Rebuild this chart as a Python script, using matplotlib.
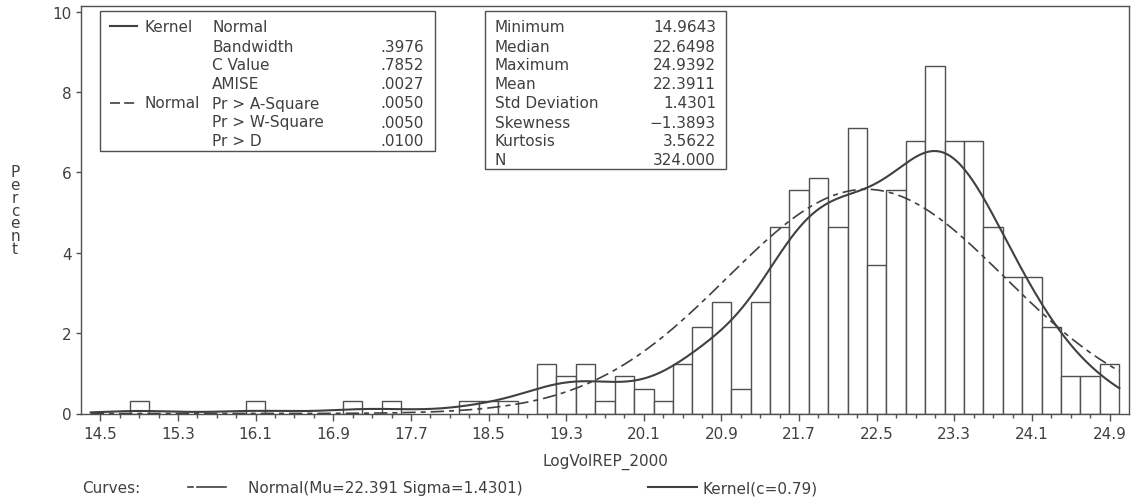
import numpy as np
import matplotlib.pyplot as plt
from matplotlib.patches import Rectangle
from matplotlib.lines import Line2D
from matplotlib.ticker import FixedLocator

# Histograma de LogVolREP_2000 con ajuste normal y estimador kernel

plt.rcParams['font.family'] = ['DejaVu Sans']
gris = '#404040'
tam = 11

# Datos: puntos medios de las clases (ancho 0.2) y porcentaje de cada una
ancho = 0.2
medios = [14.9, 16.1, 17.1, 17.5, 18.3, 18.5, 18.7,
          19.1, 19.3, 19.5, 19.7, 19.9, 20.1, 20.3, 20.5, 20.7, 20.9, 21.1, 21.3,
          21.5, 21.7, 21.9, 22.1, 22.3, 22.5, 22.7, 22.9, 23.1, 23.3, 23.5, 23.7,
          23.9, 24.1, 24.3, 24.5, 24.7, 24.9]
porcentaje = [0.31, 0.31, 0.31, 0.31, 0.31, 0.31, 0.31,
              1.23, 0.93, 1.23, 0.31, 0.93, 0.62, 0.31, 1.23, 2.16, 2.78, 0.62, 2.78,
              4.63, 5.56, 5.86, 4.63, 7.10, 3.70, 5.56, 6.79, 8.64, 6.79, 6.79, 4.63,
              3.40, 3.40, 2.16, 0.93, 0.93, 1.23]

# Parametros de las curvas
mu, sigma = 22.391, 1.4301
banda = 0.3976

# Tablas de estadisticos
kernel_etiq = ['Bandwidth', 'C Value', 'AMISE']
kernel_val = ['.3976', '.7852', '.0027']
normal_etiq = ['Pr > A-Square', 'Pr > W-Square', 'Pr > D']
normal_val = ['.0050', '.0050', '.0100']
resumen_etiq = ['Minimum', 'Median', 'Maximum', 'Mean', 'Std Deviation',
                'Skewness', 'Kurtosis', 'N']
resumen_val = ['14.9643', '22.6498', '24.9392', '22.3911', '1.4301',
               '\u22121.3893', '3.5622', '324.000']

marcas_mayores = np.round(np.arange(14.5, 24.95, 0.8), 1)
marcas_menores = np.round(np.arange(14.5, 24.95, 0.2), 1)

W, H = 1140, 502
def fx(px):
    return px / W
def fy(py):
    return 1 - py / H

fig = plt.figure(figsize=(W / 100, H / 100), dpi=100)
ax = fig.add_axes([fx(81), fy(414.5), fx(1129) - fx(81), fy(7) - fy(414.5)])

ax.bar(medios, porcentaje, width=ancho, facecolor='white', edgecolor='#505050',
       linewidth=1.0, zorder=2)

x = np.linspace(14.4, 25.0, 500)
normal = 100 * ancho * np.exp(-0.5 * ((x - mu) / sigma) ** 2) / (sigma * np.sqrt(2 * np.pi))
kernel = np.zeros_like(x)
for m, p in zip(medios, porcentaje):
    kernel += p * ancho * np.exp(-0.5 * ((x - m) / banda) ** 2) / (banda * np.sqrt(2 * np.pi))

ax.plot(x, normal, color=gris, lw=1.2, dashes=(8, 3, 3, 3), zorder=3)
ax.plot(x, kernel, color=gris, lw=1.5, zorder=3)

ax.set_xlim(14.3, 25.1)
ax.set_ylim(0, 10.14)
ax.xaxis.set_major_locator(FixedLocator(marcas_mayores))
ax.xaxis.set_minor_locator(FixedLocator(marcas_menores))
ax.set_xticklabels(['%.1f' % v for v in marcas_mayores])
ax.set_yticks([0, 2, 4, 6, 8, 10])
ax.tick_params(axis='x', which='major', length=5.3, width=1, color='#505050',
               labelsize=tam, labelcolor=gris, pad=4)
ax.tick_params(axis='x', which='minor', length=3, width=1, color='#505050')
ax.tick_params(axis='y', length=3.6, width=1, color='#505050',
               labelsize=tam, labelcolor=gris, pad=3)
for s in ax.spines.values():
    s.set_color('#505050')
    s.set_linewidth(1.0)

fig.text(fx(605), fy(462), 'LogVolREP_2000', ha='center', va='center',
         fontsize=tam, color=gris)
fig.text(fx(15), fy(211), 'P\ne\nr\nc\ne\nn\nt', ha='center', va='center',
         fontsize=tam, color=gris, linespacing=0.82)

# Recuadro con los parametros de las curvas
fig.add_artist(Rectangle((fx(100), fy(152)), fx(435) - fx(100), fy(12) - fy(152),
                         transform=fig.transFigure, facecolor='white',
                         edgecolor='#505050', lw=1.0))
filas1 = [27, 47, 66, 85, 104, 123, 142]
fig.add_artist(Line2D([fx(110), fx(137)], [fy(27), fy(27)], transform=fig.transFigure,
                      color=gris, lw=1.5))
fig.add_artist(Line2D([fx(110), fx(137)], [fy(104), fy(104)], transform=fig.transFigure,
                      color=gris, lw=1.2, dashes=(6, 2.5)))
fig.text(fx(144), fy(filas1[0]), 'Kernel', va='center', fontsize=tam, color=gris)
fig.text(fx(212), fy(filas1[0]), 'Normal', va='center', fontsize=tam, color=gris)
fig.text(fx(144), fy(filas1[4]), 'Normal', va='center', fontsize=tam, color=gris)
for i, (e, v) in enumerate(zip(kernel_etiq + normal_etiq, kernel_val + normal_val)):
    f = filas1[1:4][i] if i < 3 else filas1[4:][i - 3]
    fig.text(fx(212), fy(f), e, va='center', fontsize=tam, color=gris)
    fig.text(fx(424), fy(f), v, va='center', ha='right', fontsize=tam, color=gris)

# Recuadro con los estadisticos descriptivos
fig.add_artist(Rectangle((fx(485), fy(170)), fx(726) - fx(485), fy(12) - fy(170),
                         transform=fig.transFigure, facecolor='white',
                         edgecolor='#505050', lw=1.0))
filas2 = [27, 47, 66, 85, 104, 123, 142, 161]
for f, e, v in zip(filas2, resumen_etiq, resumen_val):
    fig.text(fx(495), fy(f), e, va='center', fontsize=tam, color=gris)
    fig.text(fx(716), fy(f), v, va='center', ha='right', fontsize=tam, color=gris)

# Leyenda inferior
fig.text(fx(82), fy(489), 'Curves:', va='center', fontsize=tam, color=gris)
fig.add_artist(Line2D([fx(188), fx(193)], [fy(488), fy(488)], transform=fig.transFigure,
                      color=gris, lw=1.2))
fig.add_artist(Line2D([fx(197), fx(226)], [fy(488), fy(488)], transform=fig.transFigure,
                      color=gris, lw=1.2))
fig.text(fx(248), fy(489), 'Normal(Mu=22.391 Sigma=1.4301)', va='center',
         fontsize=tam, color=gris)
fig.add_artist(Line2D([fx(648), fx(697)], [fy(488), fy(488)], transform=fig.transFigure,
                      color=gris, lw=1.5))
fig.text(fx(703), fy(489), 'Kernel(c=0.79)', va='center', fontsize=tam, color=gris)

plt.savefig('out.png', dpi=100)
